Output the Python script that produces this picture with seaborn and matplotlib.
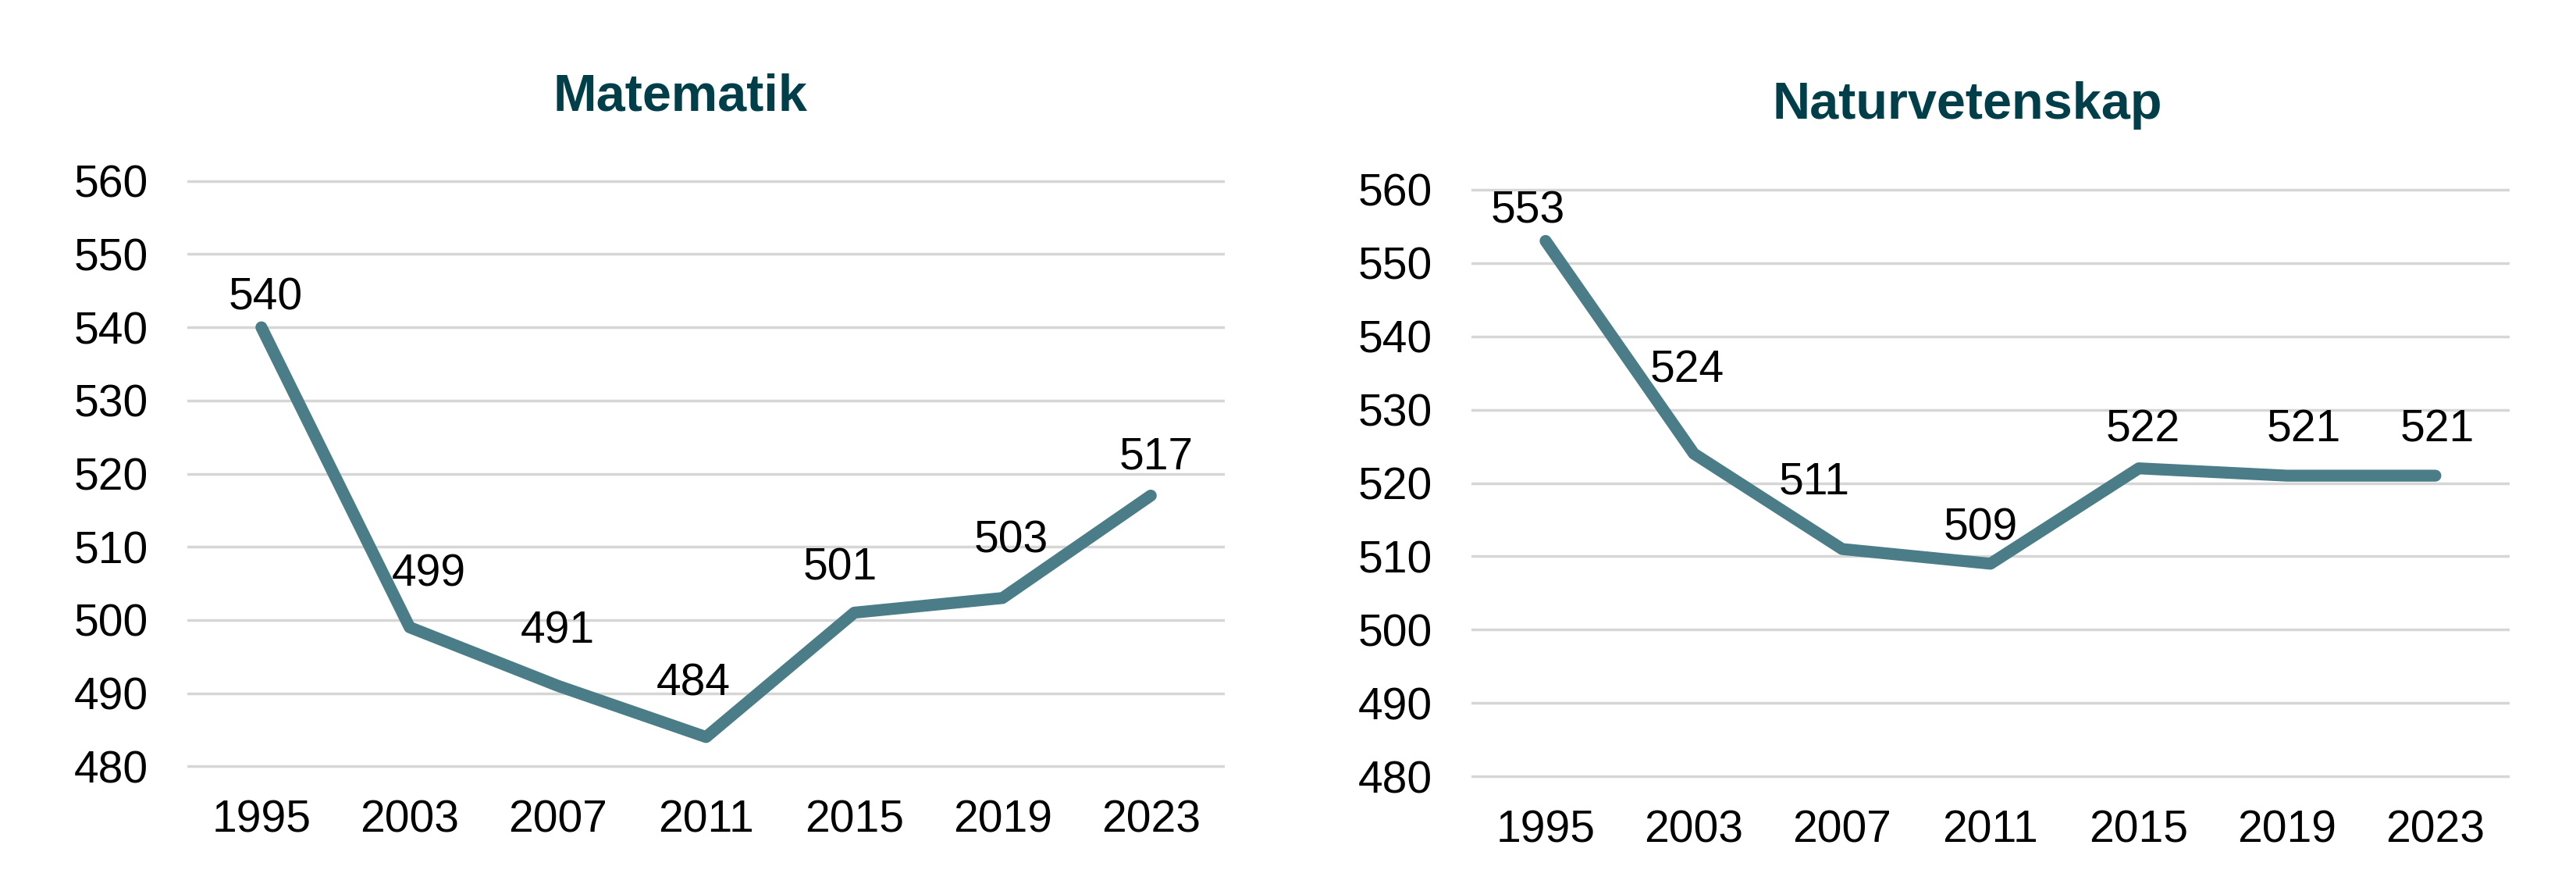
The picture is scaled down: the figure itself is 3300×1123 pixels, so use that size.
import seaborn as sns
import matplotlib.pyplot as plt
import pandas as pd

# Data
years = ['1995', '2003', '2007', '2011', '2015', '2019', '2023']
matematik = [540, 499, 491, 484, 501, 503, 517]
naturvetenskap = [553, 524, 511, 509, 522, 521, 521]
yticks = [480, 490, 500, 510, 520, 530, 540, 550, 560]

# label offsets in pixels (dx, dy)
mat_offsets = [(5, 38), (25, 68), (0, 70), (-16, 68), (-18, 57), (11, 73), (7, 49)]
nat_offsets = [(-23, 38), (-9, 106), (-36, 86), (-13, 45), (5, 49), (21, 59), (2, 59)]

line_color = '#4A7D87'
title_color = '#003F4A'

sns.set_theme(style='white')
plt.rcParams['font.family'] = ['Liberation Sans', 'DejaVu Sans']

fig = plt.figure(figsize=(33, 11.23), dpi=100)
# small margin around 480..560 so the edge gridlines are not clipped
ax1 = fig.add_axes([0.0727, 1 - 985 / 1123, 0.4028, 757 / 1123])
ax2 = fig.add_axes([0.5712, 1 - 998 / 1123, 0.4030, 759 / 1123])

panels = [
    (ax1, matematik, mat_offsets, 'Matematik', 0.2642, 1 - 141 / 1123),
    (ax2, naturvetenskap, nat_offsets, 'Naturvetenskap', 0.7636, 1 - 152 / 1123),
]

for ax, values, offsets, title, tx, ty in panels:
    df = pd.DataFrame({'year': years, 'score': values})
    sns.lineplot(data=df, x='year', y='score', ax=ax, color=line_color,
                 linewidth=11, sort=False, clip_on=False,
                 solid_capstyle='round', solid_joinstyle='round')
    ax.set_xlim(-0.5, len(years) - 0.5)
    ax.set_ylim(479.6, 560.4)
    ax.set_yticks(yticks)
    ax.grid(axis='y', color='#D6D6D6', linewidth=2.5)
    ax.set_axisbelow(True)
    for s in ax.spines.values():
        s.set_visible(False)
    ax.tick_params(axis='both', length=0, labelsize=41, colors='black')
    ax.tick_params(axis='y', pad=36)
    ax.tick_params(axis='x', pad=28)
    ax.set_xlabel('')
    ax.set_ylabel('')
    for i, (v, (dx, dy)) in enumerate(zip(values, offsets)):
        ax.annotate(str(v), (i, v), xytext=(dx, dy), textcoords='offset pixels',
                    ha='center', va='center', fontsize=41, color='black')
    fig.text(tx, ty, title, ha='center', va='baseline', fontsize=48,
             fontweight='bold', color=title_color)

fig.savefig('out.png', dpi=100, facecolor='white')
